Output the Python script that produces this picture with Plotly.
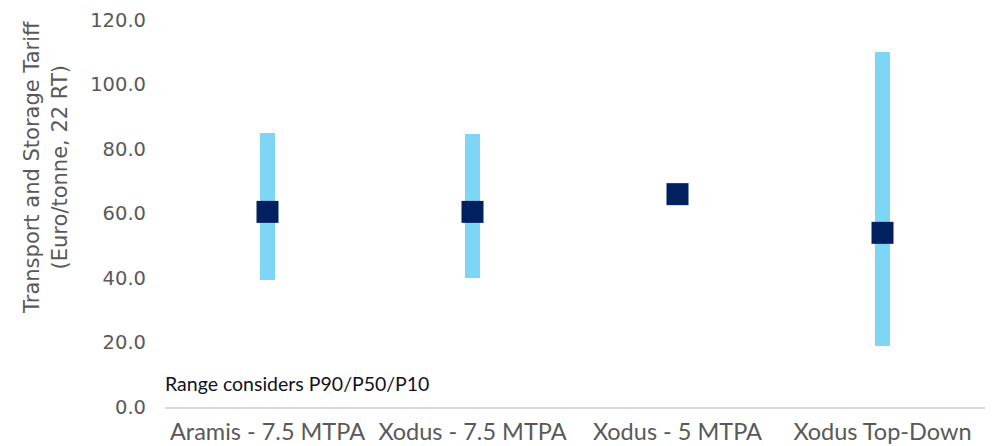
import plotly.graph_objects as go

categories = ["Aramis - 7.5 MTPA", "Xodus - 7.5 MTPA", "Xodus - 5 MTPA", "Xodus Top-Down"]
p90_low = [39.5, 40.0, None, 19.0]
p10_high = [85.0, 84.5, None, 110.0]
p50 = [60.5, 60.5, 66.0, 54.0]

range_len = [None if lo is None else hi - lo for lo, hi in zip(p90_low, p10_high)]

fig = go.Figure()
fig.add_trace(go.Bar(
    x=categories, y=range_len, base=p90_low,
    width=0.073, marker=dict(color="#7DD6F5", line=dict(width=0)),
    hoverinfo="skip", showlegend=False
))
fig.add_trace(go.Scatter(
    x=categories, y=p50, mode="markers",
    marker=dict(symbol="square", size=22, color="#002060"),
    showlegend=False
))

# note inside plot
fig.add_annotation(
    text="Range considers P90/P50/P10", xref="paper", yref="paper",
    x=-0.003, y=0.062, xanchor="left", yanchor="middle", showarrow=False,
    font=dict(family="Lato", size=19.5, color="#111122")
)
# y axis title drawn as annotation to place it freely
fig.add_annotation(
    text="Transport and Storage Tariff<br>(Euro/tonne, 22 RT)", xref="paper", yref="paper",
    x=-0.145, y=0.618, xanchor="center", yanchor="middle", showarrow=False,
    textangle=-90, font=dict(family="DejaVu Sans", size=21, color="#595959")
)

# page body has an 8px margin, so the margins are shifted to compensate
fig.update_layout(
    width=996, height=446,
    margin=dict(l=157, r=19, t=12, b=47),
    plot_bgcolor="white", paper_bgcolor="white",
    font=dict(family="DejaVu Sans", color="#595959"),
    xaxis=dict(
        showgrid=False, showline=True, linecolor="#d9d9d9", linewidth=2,
        tickfont=dict(family="Lato", size=23.5, color="#595959"),
        ticks="", automargin=False, ticklabelstandoff=3
    ),
    yaxis=dict(
        range=[0, 120], dtick=20, tickformat=".1f", showgrid=False,
        zeroline=False, showline=False, automargin=False,
        tickfont=dict(family="DejaVu Sans", size=19.5, color="#595959"),
        ticklabelstandoff=18
    ),
    bargap=0
)

fig.write_html("out.html")
